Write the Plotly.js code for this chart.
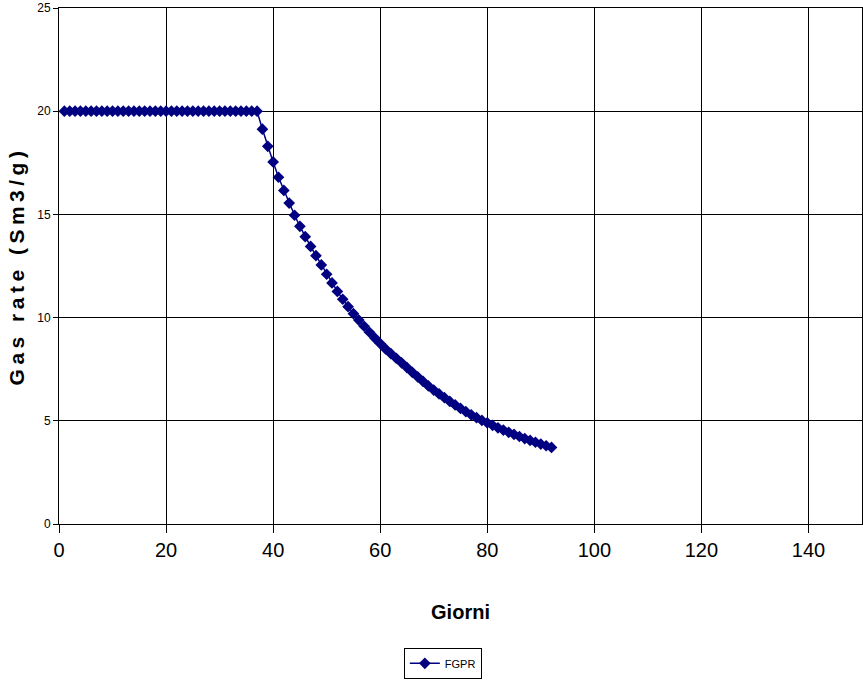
<!DOCTYPE html>
<html>
<head>
<meta charset="utf-8">
<script src="https://cdn.plot.ly/plotly-3.0.1.min.js"></script>
<style>
  html, body { margin: 0; padding: 0; background: #fff; }
  #chart { width: 863px; height: 681px; }
  .ytitle { letter-spacing: 4.5px; }
</style>
</head>
<body>
<div id="chart"></div>
<script>
// Day index (Giorni)
const days = [];
for (let d = 1; d <= 92; d++) days.push(d);

// Gas rate FGPR (Sm3/g)
const plateau = [20,20,20,20,20,20,20,20,20,20,20,20,20,20,20,20,20,20,20,20,
                 20,20,20,20,20,20,20,20,20,20,20,20,20,20,20,20,20];
const decline = [19.13,18.30,17.54,16.80,16.16,15.55,14.96,14.42,13.92,13.45,
                 13.00,12.55,12.10,11.68,11.27,10.89,10.53,10.19,9.88,9.58,
                 9.29,9.01,8.74,8.48,8.25,8.03,7.81,7.58,7.35,7.13,
                 6.91,6.69,6.49,6.30,6.12,5.94,5.77,5.60,5.44,5.29,
                 5.15,5.02,4.90,4.78,4.66,4.55,4.44,4.34,4.24,4.14,
                 4.05,3.96,3.87,3.79,3.71];
const fgpr = plateau.concat(decline);

const seriesName = "FGPR";
const xTitle = "Giorni";
const yTitle = "Gas rate (Sm3/g)";

const narrow = "'Liberation Sans Narrow', 'Arial Narrow', 'Liberation Sans', Arial, sans-serif";

const trace = {
  x: days,
  y: fgpr,
  name: seriesName,
  type: "scatter",
  mode: "lines+markers",
  line: { color: "#000080", width: 1.5 },
  marker: { symbol: "diamond", size: 9, color: "#000080" }
};

const layout = {
  width: 863,
  height: 681,
  margin: { l: 59, r: 1, t: 8, b: 157 },
  paper_bgcolor: "#ffffff",
  plot_bgcolor: "#ffffff",
  showlegend: true,
  xaxis: {
    range: [0, 150],
    dtick: 20,
    tick0: 0,
    showgrid: true,
    gridcolor: "#000000",
    gridwidth: 1,
    zeroline: false,
    showline: true,
    linecolor: "#000000",
    linewidth: 1,
    mirror: true,
    ticks: "outside",
    ticklen: 8,
    tickcolor: "#000000",
    tickfont: { family: narrow, size: 20, color: "#000000" },
    title: { text: "<b>" + xTitle + "</b>", font: { family: narrow, size: 20, color: "#000000" }, standoff: 44 }
  },
  yaxis: {
    range: [0, 25],
    dtick: 5,
    tick0: 0,
    showgrid: true,
    gridcolor: "#000000",
    gridwidth: 1,
    zeroline: false,
    showline: true,
    linecolor: "#000000",
    linewidth: 1,
    mirror: true,
    ticks: "outside",
    ticklen: 5,
    tickcolor: "#000000",
    tickfont: { family: narrow, size: 12, color: "#000000" },
    title: { text: "<b>" + yTitle + "</b>", font: { family: narrow, size: 21, color: "#000000" }, standoff: 6 }
  },
  legend: {
    orientation: "h",
    x: 0.478,
    xanchor: "center",
    y: -0.27,
    yanchor: "middle",
    bordercolor: "#000000",
    borderwidth: 1,
    bgcolor: "#ffffff",
    font: { family: narrow, size: 11, color: "#000000" },
    itemwidth: 30
  }
};

Plotly.newPlot("chart", [trace], layout, { displayModeBar: false, staticPlot: true });
</script>
</body>
</html>
